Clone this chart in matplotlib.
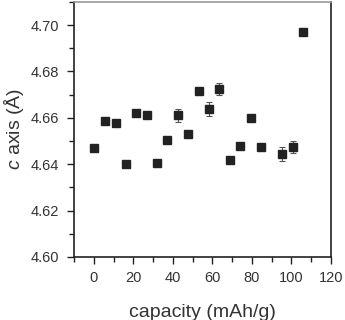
import numpy as np
import matplotlib.pyplot as plt
from matplotlib.ticker import MultipleLocator

plt.rcParams['font.family'] = ['Liberation Sans', 'DejaVu Sans']
plt.rcParams['mathtext.fontset'] = 'custom'
plt.rcParams['mathtext.it'] = 'Liberation Sans:italic'
plt.rcParams['mathtext.rm'] = 'Liberation Sans'

capacity = [0, 5.6, 11.0, 16.2, 21.4, 26.7, 31.9, 37.1, 42.4, 47.6,
            53.0, 58.2, 63.5, 68.7, 74.1, 79.5, 84.7, 95.4, 100.8, 106.0]
c_axis = [4.6469, 4.6585, 4.6578, 4.6402, 4.6622, 4.6613, 4.6406, 4.6504, 4.6611, 4.6531,
          4.6714, 4.6638, 4.6725, 4.6418, 4.6478, 4.6599, 4.6473, 4.6444, 4.6474, 4.6970]
c_err = [0.0008, 0.0008, 0.0008, 0.0008, 0.0010, 0.0010, 0.0008, 0.0008, 0.0028, 0.0008,
         0.0008, 0.0032, 0.0026, 0.0008, 0.0008, 0.0008, 0.0008, 0.0030, 0.0027, 0.0008]

fig = plt.figure(figsize=(3.45, 3.2), dpi=100)
ax = fig.add_axes([0.2145, 0.197, 0.745, 0.797])

ax.errorbar(capacity, c_axis, yerr=c_err, fmt='s', color='#222222', ecolor='#555555',
            elinewidth=0.8, capsize=2.5, capthick=0.8, markersize=6.2, mec='#222222')

ax.set_xlim(-10, 120)
ax.set_ylim(4.60, 4.71)
ax.xaxis.set_major_locator(MultipleLocator(20))
ax.xaxis.set_minor_locator(MultipleLocator(10))
ax.yaxis.set_major_locator(MultipleLocator(0.02))
ax.yaxis.set_minor_locator(MultipleLocator(0.01))
ax.yaxis.set_major_formatter(plt.FormatStrFormatter('%.2f'))

ax.tick_params(which='both', direction='out', color='#222222', width=1.0, labelcolor='#333333',
               labelsize=10.5)
ax.tick_params(which='major', length=5)
ax.tick_params(which='minor', length=3.5)
ax.tick_params(axis='y', which='major', pad=6)
ax.tick_params(axis='x', which='major', pad=5)

for s in ['left', 'bottom', 'right']:
    ax.spines[s].set_color('#222222')
    ax.spines[s].set_linewidth(1.2)
ax.spines['top'].set_color('#999999')
ax.spines['top'].set_linewidth(1.2)

ax.set_xlabel('capacity (mAh/g)', fontsize=14, color='#333333', labelpad=14)
ax.set_ylabel(r'$c$ axis (Å)', fontsize=14, color='#333333', labelpad=3)

fig.savefig('out.png', dpi=100)
